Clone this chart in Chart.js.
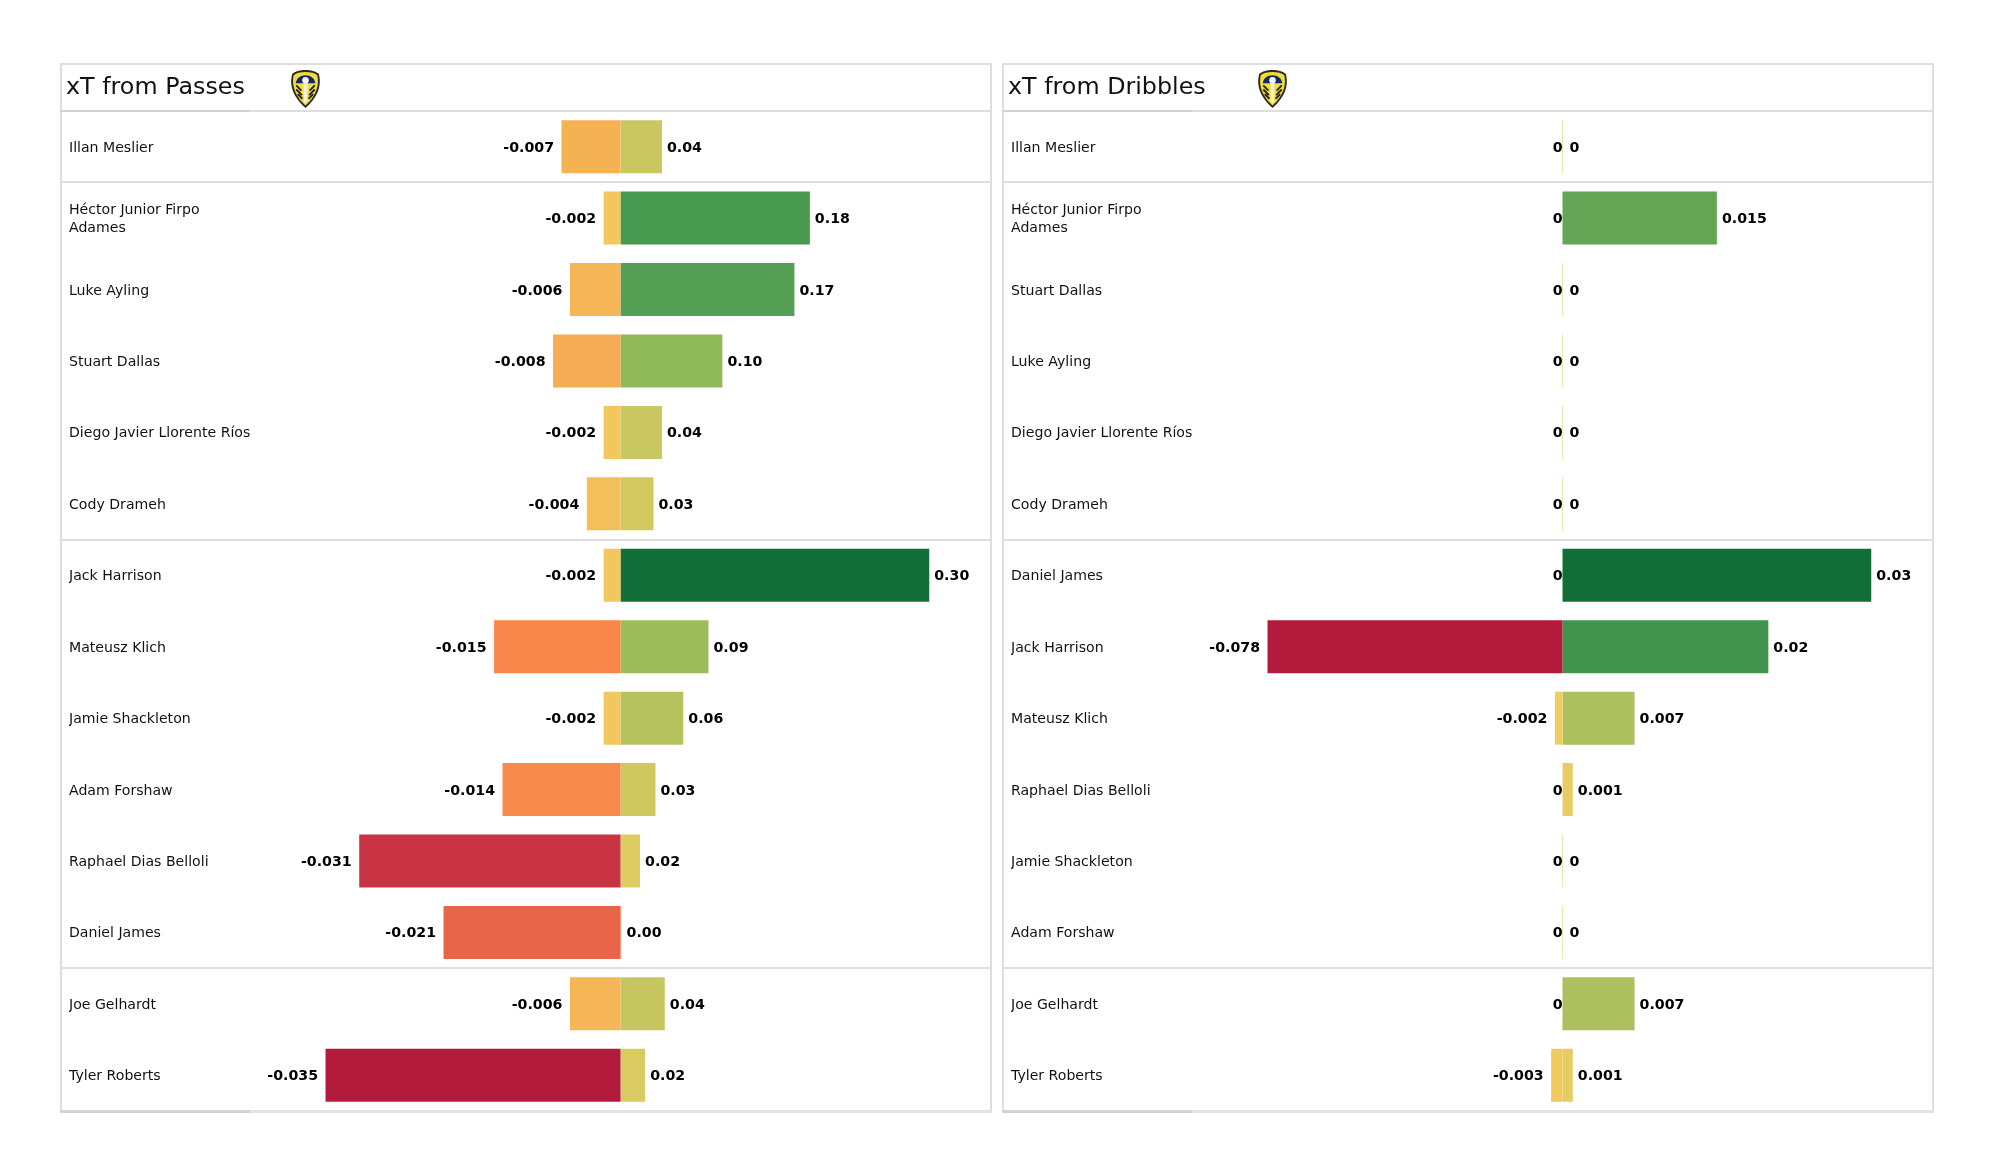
<!DOCTYPE html>
<html>
<head>
<meta charset="utf-8">
<title>xT from Passes and Dribbles</title>
<script src="https://cdn.jsdelivr.net/npm/chart.js@4/dist/chart.umd.min.js"></script>
<style>
  html, body { margin: 0; padding: 0; background: #fff; }
  body { position: relative; width: 2000px; height: 1175px; overflow: hidden; }
  .panel { position: absolute; top: 63px; width: 928px; height: 1046px; border: 2px solid #dedede; }
  .panel canvas { position: absolute; left: -2px; top: -2px; }
  .crest { position: absolute; top: 70px; width: 31px; height: 38px; }
</style>
</head>
<body>
<div class="panel" style="left:60px"><canvas id="passesChart" width="932" height="1050"></canvas></div>
<div class="panel" style="left:1002px"><canvas id="dribblesChart" width="932" height="1050"></canvas></div>

<svg class="crest" style="left:290px" viewBox="0 0 30 37"><use href="#crestShape"></use></svg>
<svg class="crest" style="left:1257px" viewBox="0 0 30 37">
  <defs>
    <g id="crestShape">
      <path d="M15 0 C20 0 25 1 28 4 C30 12 30 24 15 37 C0 24 0 12 2 4 C5 1 10 0 15 0 Z" fill="#2b2b20"/>
      <path d="M15 2 C20 2 24 3 26.5 5 C28 12 27.5 23 15 34.5 C2.5 23 2 12 3.5 5 C6 3 10 2 15 2 Z" fill="#f2dd3a"/>
      <path d="M5.5 13 C6 8 10 5 15 5 C20 5 24 8 24.5 13 Z" fill="#12286b"/>
      <circle cx="15" cy="10" r="3.2" fill="#f4f4f4"/>
      <path d="M13 13 L17 13 L16.4 31 L15 32.5 L13.6 31 Z" fill="#f4f1d8"/>
      <path d="M6 15 L11 20 M6 19 L11.5 24.5 M7.5 23.5 L12 28 M24 15 L19 20 M24 19 L18.5 24.5 M22.5 23.5 L18 28" stroke="#222" stroke-width="1.8" fill="none"/>
    </g>
  </defs>
  <use href="#crestShape"></use>
</svg>

<script>
const passPlayers = ['Illan Meslier', ['Héctor Junior Firpo', 'Adames'], 'Luke Ayling', 'Stuart Dallas',
    'Diego Javier Llorente Ríos', 'Cody Drameh', 'Jack Harrison', 'Mateusz Klich', 'Jamie Shackleton',
    'Adam Forshaw', 'Raphael Dias Belloli', 'Daniel James', 'Joe Gelhardt', 'Tyler Roberts'];
const passNegative = [-0.007, -0.002, -0.006, -0.008, -0.002, -0.004, -0.002, -0.015, -0.002, -0.014, -0.031, -0.021, -0.006, -0.035];
const passPositive = [0.0403, 0.184, 0.169, 0.099, 0.0403, 0.032, 0.30, 0.0855, 0.061, 0.034, 0.019, 0.001, 0.043, 0.024];

const dribblePlayers = ['Illan Meslier', ['Héctor Junior Firpo', 'Adames'], 'Stuart Dallas', 'Luke Ayling',
    'Diego Javier Llorente Ríos', 'Cody Drameh', 'Daniel James', 'Jack Harrison', 'Mateusz Klich',
    'Raphael Dias Belloli', 'Jamie Shackleton', 'Adam Forshaw', 'Joe Gelhardt', 'Tyler Roberts'];
const dribbleNegative = [0, 0, 0, 0, 0, 0, 0, -0.078, -0.002, 0, 0, 0, 0, -0.003];
const dribblePositive = [0, 0.015, 0, 0, 0, 0, 0.03, 0.02, 0.007, 0.001, 0, 0, 0.007, 0.001];

// row borders sit above these row indexes
const sectionStarts = [0, 1, 6, 12];

// colour ramps, position is the share of the panel's largest value
const negativeRamp = [[0, '#efd062'], [0.2, '#f5b255'], [0.43, '#f8854a'], [0.6, '#e8654a'], [0.886, '#c83444'], [1, '#b31b3c']];
const positiveRamp = [[0, '#efe6b0'], [0.01, '#edcf62'], [0.133, '#c9c760'], [0.33, '#90ba5a'], [0.6, '#4a9b52'], [1, '#126e38']];

const hexToRgb = hex => [1, 3, 5].map(i => parseInt(hex.slice(i, i + 2), 16));

function rampColor(ramp, share) {
    for (let i = 1; i < ramp.length; i++) {
        if (share <= ramp[i][0]) {
            const t = (share - ramp[i - 1][0]) / (ramp[i][0] - ramp[i - 1][0]);
            const a = hexToRgb(ramp[i - 1][1]);
            const b = hexToRgb(ramp[i][1]);
            return `rgb(${a.map((c, k) => Math.round(c + (b[k] - c) * t)).join(',')})`;
        }
    }
    return ramp[ramp.length - 1][1];
}

// frame details and section lines, drawn across the full canvas width
const rowLines = {
    id: 'rowLines',
    afterLayout(chart) {
        // names sit a little right of the title, and may not be clipped by the axis box
        chart.scales.y.left = 9;
        chart.scales.y.right += 8;
    },
    beforeDraw(chart) {
        const { ctx, scales: { y } } = chart;
        ctx.save();
        ctx.fillStyle = '#dedede';
        sectionStarts.forEach(row => {
            ctx.fillRect(0, Math.round(y.getPixelForValue(row - 0.5)) - 1, chart.width, 2);
        });
        // darker stub under the name column
        ctx.fillStyle = '#d2d2d2';
        ctx.fillRect(0, y.getPixelForValue(-0.5) - 1, 190, 2);
        ctx.fillRect(0, chart.height - 3, 190, 3);
        ctx.fillStyle = '#e4e4e4';
        ctx.fillRect(190, chart.height - 3, chart.width - 190, 3);
        ctx.restore();
    }
};

const barLabels = {
    id: 'barLabels',
    afterDatasetsDraw(chart, args, opts) {
        const { ctx, scales: { xNeg, xPos, y } } = chart;
        ctx.save();
        ctx.font = 'bold 14.2px "DejaVu Sans"';
        ctx.fillStyle = '#000';
        ctx.textBaseline = 'middle';
        chart.data.datasets[0].data.forEach((v, i) => {
            ctx.textAlign = 'right';
            ctx.fillText(v === 0 ? '0' : v.toFixed(3), xNeg.getPixelForValue(v) - (v === 0 ? 0 : 7.5), y.getPixelForValue(i) + 1.3);
        });
        chart.data.datasets[1].data.forEach((v, i) => {
            ctx.textAlign = 'left';
            ctx.fillText(opts.format(v), xPos.getPixelForValue(v) + (v === 0 ? 7 : 5), y.getPixelForValue(i) + 1.3);
        });
        ctx.restore();
    }
};

function makePanel(canvasId, titleText, players, negative, positive, format) {
    const maxNeg = Math.max(...negative.map(Math.abs));
    const maxPos = Math.max(...positive);
    const negLimit = maxNeg * 1.256;
    const posLimit = maxPos * 1.2;

    return new Chart(document.getElementById(canvasId), {
        type: 'bar',
        data: {
            labels: players,
            datasets: [{
                data: negative,
                xAxisID: 'xNeg',
                backgroundColor: negative.map(v => rampColor(negativeRamp, Math.abs(v) / maxNeg))
            }, {
                data: positive,
                xAxisID: 'xPos',
                minBarLength: 1.2,
                backgroundColor: positive.map(v => rampColor(positiveRamp, v / maxPos))
            }]
        },
        options: {
            indexAxis: 'y',
            responsive: false,
            animation: false,
            devicePixelRatio: 1,
            grouped: false,
            barPercentage: 0.742,
            categoryPercentage: 1,
            layout: { autoPadding: false, padding: { left: 6, right: 1, bottom: 2 } },
            scales: {
                xNeg: { axis: 'x', type: 'linear', display: false, min: -negLimit, max: negLimit },
                xPos: { axis: 'x', type: 'linear', display: false, min: -posLimit, max: posLimit },
                y: {
                    type: 'category',
                    offset: true,
                    grid: { display: false },
                    border: { display: false },
                    afterFit(axis) {
                        axis.width = 184;
                        axis.paddingTop = 0;
                        axis.paddingBottom = 0;
                    },
                    ticks: {
                        crossAlign: 'far',
                        autoSkip: false,
                        labelOffset: 1.3,
                        color: '#111',
                        font: { family: '"DejaVu Sans"', size: 14.1, lineHeight: 1.24 }
                    }
                }
            },
            plugins: {
                legend: { display: false },
                tooltip: { enabled: false },
                title: {
                    display: true,
                    text: titleText,
                    align: 'start',
                    color: '#111',
                    font: { family: '"DejaVu Sans"', size: 23.8, weight: 'normal', lineHeight: 1.2 },
                    padding: { top: 10.5, bottom: 8.9 }
                },
                barLabels: { format: format }
            }
        },
        plugins: [rowLines, barLabels]
    });
}

makePanel('passesChart', 'xT from Passes', passPlayers, passNegative, passPositive, v => v.toFixed(2));
makePanel('dribblesChart', 'xT from Dribbles', dribblePlayers, dribbleNegative, dribblePositive, v => String(v));
</script>
</body>
</html>
